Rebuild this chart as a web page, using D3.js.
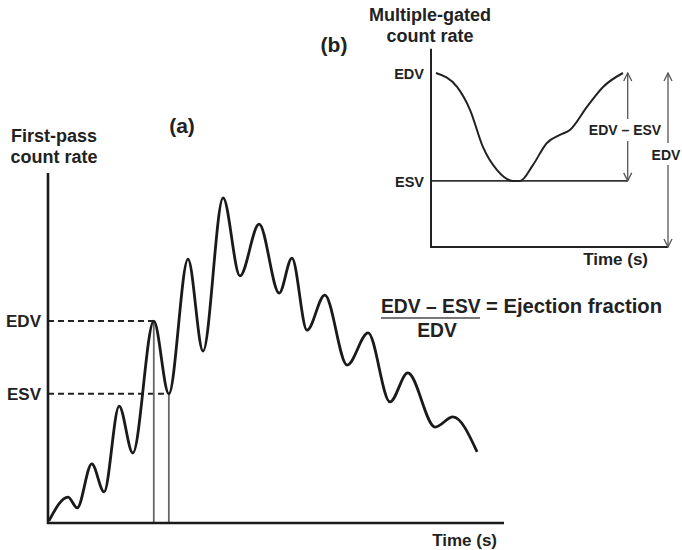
<!DOCTYPE html>
<html>
<head>
<meta charset="utf-8">
<script src="https://cdn.jsdelivr.net/npm/d3@7"></script>
<style>
  body { margin: 0; background: #fff; }
  text { font-family: "Liberation Sans", Arial, sans-serif; fill: #222; }
</style>
</head>
<body>
<svg id="svg1"></svg>
<script>
const width = 682;
const height = 550;

// (a) first-pass curve: time (arbitrary units) and count rate
const firstPassTime  = [0.2, 4.4, 6.4, 9.6, 12.3, 15.6, 18.6, 23.2, 26.5, 30.7, 34.0, 38.4, 42.1, 46.3, 50.7, 53.5, 56.8, 60.7, 65.6, 70.2, 75.0, 78.9, 84.9, 88.8, 94.1];
const firstPassCount = [0.6, 7.4, 4.3, 16.9, 8.9, 33.4, 20.0, 57.7, 36.9, 75.4, 49.1, 92.9, 70.6, 85.4, 65.7, 75.7, 55.1, 65.1, 45.1, 54.3, 34.6, 42.9, 27.4, 30.3, 20.3];
const firstPassEDV = {t: 23.2, c: 57.7};
const firstPassESV = {t: 26.5, c: 36.9};

// (b) multiple-gated curve
const gatedTime  = [2.1, 11, 16.5, 21.9, 27.8, 34.6, 37.6, 43, 48.9, 54.4, 58.6, 65.8, 72.6, 81];
const gatedCount = [100, 92, 78.7, 57.5, 44.3, 38, 38, 47.1, 59.8, 64.4, 67.2, 80.5, 92, 100];
const gatedEDV = 100;
const gatedESV = 38;

const svg = d3.select("#svg1")
  .attr("width", width)
  .attr("height", height);

const defs = svg.append("defs");
defs.append("marker")
  .attr("id", "arrow")
  .attr("viewBox", "0 0 10 10")
  .attr("refX", 9).attr("refY", 5)
  .attr("markerWidth", 10).attr("markerHeight", 10)
  .attr("markerUnits", "userSpaceOnUse")
  .attr("orient", "auto-start-reverse")
  .append("path")
  .attr("d", "M1,1 L9,5 L1,9")
  .attr("fill", "none")
  .attr("stroke", "#555")
  .attr("stroke-width", 1.3);

// ---------- panel (a) ----------
const xA = d3.scaleLinear().domain([0, 100]).range([48, 504]);
const yA = d3.scaleLinear().domain([0, 100]).range([523, 173]);

const lineA = d3.line()
  .x((d) => xA(d[0]))
  .y((d) => yA(d[1]))
  .curve(d3.curveMonotoneX);

const gA = svg.append("g");

// dashed guides
gA.append("line")
  .attr("x1", xA(0)).attr("x2", xA(firstPassEDV.t))
  .attr("y1", yA(firstPassEDV.c)).attr("y2", yA(firstPassEDV.c))
  .attr("stroke", "#222").attr("stroke-width", 2).attr("stroke-dasharray", "6,4");
gA.append("line")
  .attr("x1", xA(0)).attr("x2", xA(firstPassESV.t))
  .attr("y1", yA(firstPassESV.c)).attr("y2", yA(firstPassESV.c))
  .attr("stroke", "#222").attr("stroke-width", 2).attr("stroke-dasharray", "6,4");

// grey drop lines
[firstPassEDV, firstPassESV].forEach((p) => {
  gA.append("line")
    .attr("x1", xA(p.t)).attr("x2", xA(p.t))
    .attr("y1", yA(0)).attr("y2", yA(p.c))
    .attr("stroke", "#666").attr("stroke-width", 1.8);
});

gA.append("path")
  .datum(d3.zip(firstPassTime, firstPassCount))
  .attr("d", lineA)
  .attr("fill", "none")
  .attr("stroke", "#1a1a1a")
  .attr("stroke-width", 2.8)
  .attr("stroke-linejoin", "round");

// axes
gA.append("line")
  .attr("x1", xA(0)).attr("x2", xA(0))
  .attr("y1", yA(0) + 1).attr("y2", yA(100))
  .attr("stroke", "#1a1a1a").attr("stroke-width", 2.6);
gA.append("line")
  .attr("x1", xA(0) - 1).attr("x2", xA(100))
  .attr("y1", yA(0)).attr("y2", yA(0))
  .attr("stroke", "#1a1a1a").attr("stroke-width", 2.6);

gA.append("text").attr("x", 41).attr("y", yA(firstPassEDV.c) + 6)
  .attr("text-anchor", "end").attr("font-size", 17).attr("font-weight", "bold").text("EDV");
gA.append("text").attr("x", 41).attr("y", yA(firstPassESV.c) + 6)
  .attr("text-anchor", "end").attr("font-size", 17).attr("font-weight", "bold").text("ESV");

gA.append("text").attr("x", 54).attr("y", 142)
  .attr("text-anchor", "middle").attr("font-size", 18).attr("font-weight", "bold").text("First-pass");
gA.append("text").attr("x", 54).attr("y", 163)
  .attr("text-anchor", "middle").attr("font-size", 18).attr("font-weight", "bold").text("count rate");
gA.append("text").attr("x", 182).attr("y", 133)
  .attr("text-anchor", "middle").attr("font-size", 21).attr("font-weight", "bold").text("(a)");
gA.append("text").attr("x", 497).attr("y", 546)
  .attr("text-anchor", "end").attr("font-size", 17).attr("font-weight", "bold").text("Time (s)");

// formula
const fm = svg.append("g");
fm.append("text").attr("x", 381).attr("y", 313)
  .attr("font-size", 19.3).attr("font-weight", "bold").text("EDV – ESV");
fm.append("line").attr("x1", 381).attr("x2", 480).attr("y1", 318).attr("y2", 318)
  .attr("stroke", "#777").attr("stroke-width", 2);
fm.append("text").attr("x", 486).attr("y", 313)
  .attr("font-size", 19.3).attr("font-weight", "bold")
  .attr("textLength", 176).attr("lengthAdjust", "spacingAndGlyphs")
  .text("= Ejection fraction");
fm.append("text").attr("x", 437).attr("y", 337).attr("text-anchor", "middle")
  .attr("font-size", 19.3).attr("font-weight", "bold").text("EDV");

// ---------- panel (b) ----------
const xB = d3.scaleLinear().domain([0, 100]).range([431, 668]);
const yB = d3.scaleLinear().domain([0, 100]).range([247, 73]);

const lineB = d3.line()
  .x((d) => xB(d[0]))
  .y((d) => yB(d[1]))
  .curve(d3.curveMonotoneX);

const gB = svg.append("g");

gB.append("line")
  .attr("x1", xB(0)).attr("x2", xB(83))
  .attr("y1", yB(gatedESV)).attr("y2", yB(gatedESV))
  .attr("stroke", "#333").attr("stroke-width", 1.6);

gB.append("path")
  .datum(d3.zip(gatedTime, gatedCount))
  .attr("d", lineB)
  .attr("fill", "none")
  .attr("stroke", "#222")
  .attr("stroke-width", 2);

gB.append("line")
  .attr("x1", xB(0)).attr("x2", xB(0))
  .attr("y1", yB(0) + 1).attr("y2", yB(114))
  .attr("stroke", "#222").attr("stroke-width", 2);
gB.append("line")
  .attr("x1", xB(0) - 1).attr("x2", xB(100))
  .attr("y1", yB(0)).attr("y2", yB(0))
  .attr("stroke", "#222").attr("stroke-width", 2);

// arrows
gB.append("line")
  .attr("x1", xB(83)).attr("x2", xB(83))
  .attr("y1", yB(gatedEDV)).attr("y2", yB(gatedESV))
  .attr("stroke", "#555").attr("stroke-width", 1.3)
  .attr("marker-start", "url(#arrow)").attr("marker-end", "url(#arrow)");
gB.append("line")
  .attr("x1", xB(100)).attr("x2", xB(100))
  .attr("y1", yB(gatedEDV)).attr("y2", yB(0))
  .attr("stroke", "#555").attr("stroke-width", 1.3)
  .attr("marker-start", "url(#arrow)").attr("marker-end", "url(#arrow)");

gB.append("rect").attr("x", 586).attr("y", 119).attr("width", 78).attr("height", 22).attr("fill", "#fff");
gB.append("text").attr("x", 625).attr("y", 135).attr("text-anchor", "middle")
  .attr("font-size", 14).attr("font-weight", "bold").text("EDV – ESV");
gB.append("rect").attr("x", 648).attr("y", 143).attr("width", 36).attr("height", 22).attr("fill", "#fff");
gB.append("text").attr("x", 666).attr("y", 160).attr("text-anchor", "middle")
  .attr("font-size", 14).attr("font-weight", "bold").text("EDV");

gB.append("text").attr("x", 424).attr("y", yB(gatedEDV) + 6).attr("text-anchor", "end")
  .attr("font-size", 14.5).attr("font-weight", "bold").text("EDV");
gB.append("text").attr("x", 424).attr("y", yB(gatedESV) + 6).attr("text-anchor", "end")
  .attr("font-size", 14.5).attr("font-weight", "bold").text("ESV");

gB.append("text").attr("x", 430).attr("y", 21).attr("text-anchor", "middle")
  .attr("font-size", 18).attr("font-weight", "bold").text("Multiple-gated");
gB.append("text").attr("x", 430).attr("y", 42).attr("text-anchor", "middle")
  .attr("font-size", 18).attr("font-weight", "bold").text("count rate");
gB.append("text").attr("x", 334).attr("y", 52).attr("text-anchor", "middle")
  .attr("font-size", 21).attr("font-weight", "bold").text("(b)");
gB.append("text").attr("x", 648).attr("y", 265).attr("text-anchor", "end")
  .attr("font-size", 17).attr("font-weight", "bold").text("Time (s)");
</script>
</body>
</html>
